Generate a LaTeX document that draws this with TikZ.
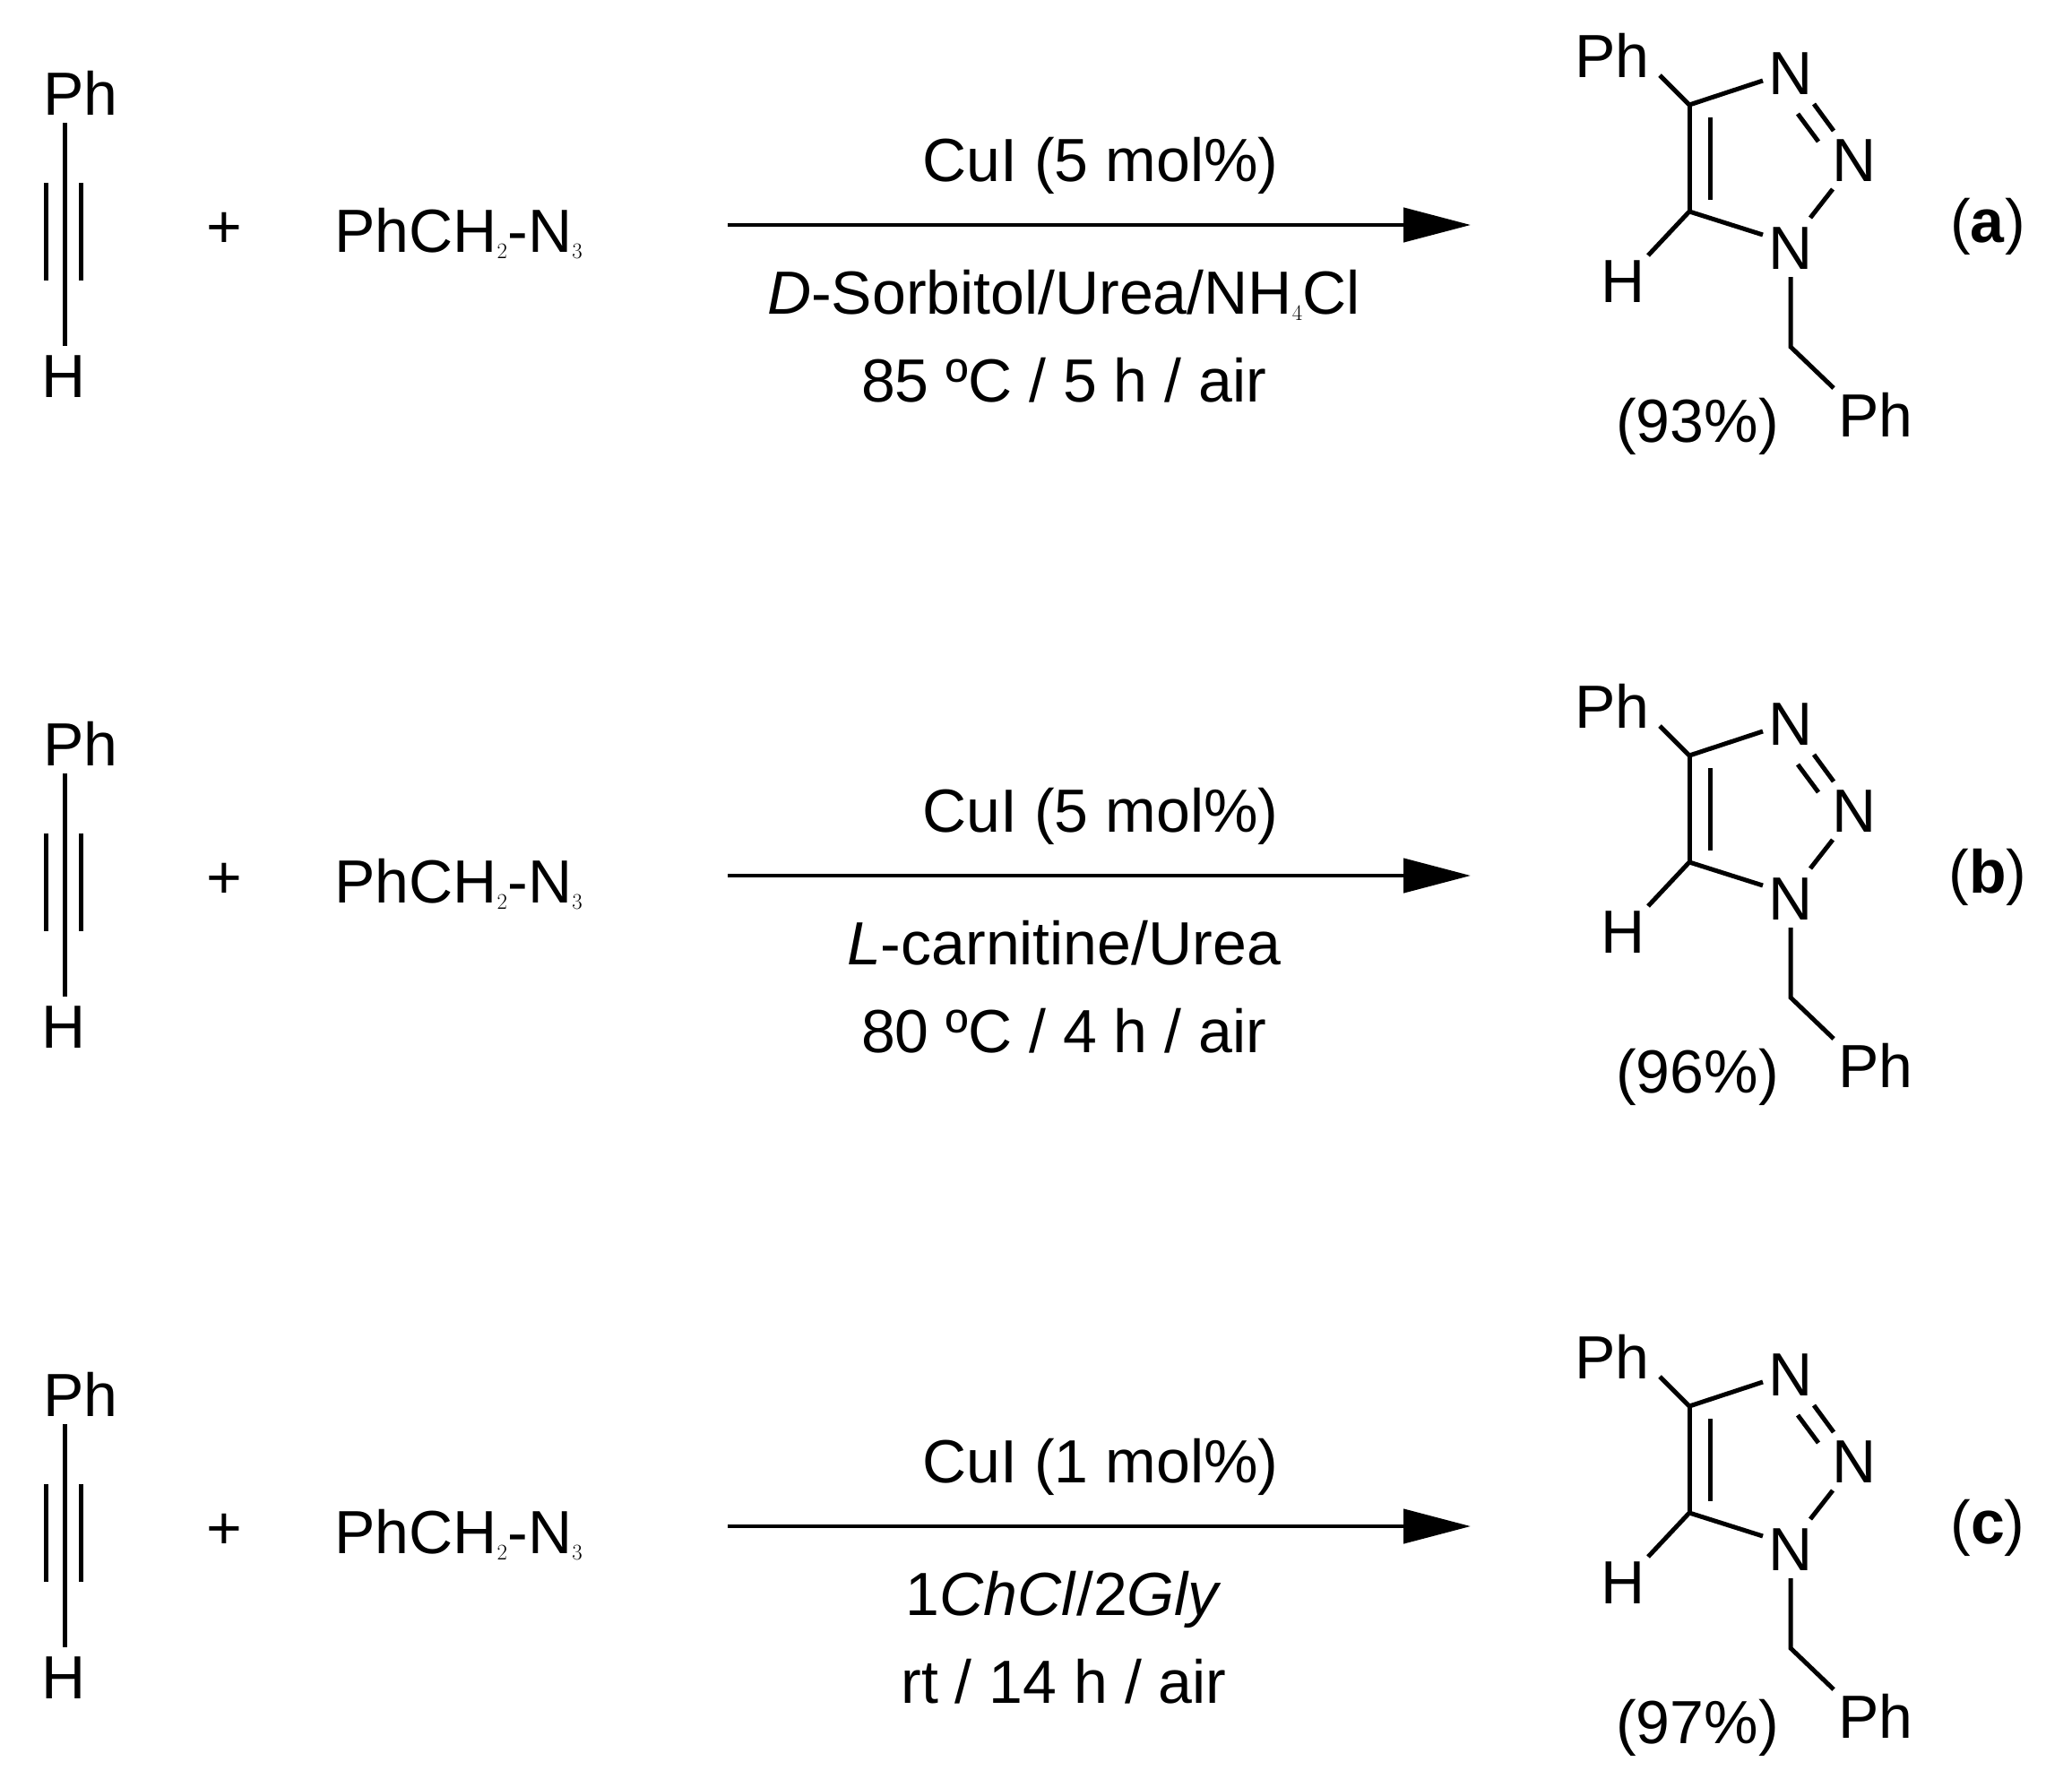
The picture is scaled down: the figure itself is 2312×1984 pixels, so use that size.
\documentclass[tikz,border=0pt]{standalone}
\usepackage{fontspec}
\setmainfont{Liberation Sans}
\usetikzlibrary{arrows.meta}
\begin{document}
\begin{tikzpicture}[x=1pt,y=-1pt,
  bond/.style={line width=5pt,line cap=butt},
  lbl/.style={inner sep=0pt,font=\fontsize{68}{80}\selectfont},
  rxn/.style={line width=4.5pt,-{Triangle[length=75pt,width=38pt]}}]
\useasboundingbox (0,0) rectangle (2312,1984);
\foreach \i/\dy/\cat/\solv/\cond/\yld/\tag in {
  a/0/{CuI (5 mol\%)}/{\textit{D}-Sorbitol/Urea/NH$_4$Cl}/{85 ºC / 5 h / air}/{(93\%)}/a,
  b/726/{CuI (5 mol\%)}/{\textit{L}-carnitine/Urea}/{80 ºC / 4 h / air}/{(96\%)}/b,
  c/1452/{CuI (1 mol\%)}/{1\textit{ChCl}/2\textit{Gly}}/{rt / 14 h / air}/{(97\%)}/c}{
\begin{scope}[yshift=-\dy pt]
  % alkyne
  \node[lbl] (aph\i) at (90,104) {Ph};
  \node[lbl] (ah\i) at (71,420) {H};
  \coordinate (t1\i) at (72,137); \coordinate (t2\i) at (72,386);
  \draw[bond] (t1\i) -- (t2\i);
  \draw[bond] (51,204) -- (51,313);
  \draw[bond] (90,204) -- (90,313);
  \node[lbl] (plus\i) at (250,257) {+};
  \node[lbl,anchor=base west] (az\i) at (373,281) {PhCH$_2$-N$_3$};
  % arrow
  \coordinate (s\i) at (812,251); \coordinate (e\i) at (1641,251);
  \draw[rxn] (s\i) -- (e\i);
  \node[lbl,anchor=base] (cat\i) at (1228,202) {\cat};
  \node[lbl,anchor=base] (sol\i) at (1187,350) {\solv};
  \node[lbl,anchor=base] (con\i) at (1187,448) {\cond};
  % triazole
  \node[lbl] (tph\i) at (1799,62) {Ph};
  \node[lbl] (n3\i) at (1998,82) {N};
  \node[lbl] (n2\i) at (2069,179) {N};
  \node[lbl] (n1\i) at (1998,277) {N};
  \node[lbl] (th\i) at (1811,314) {H};
  \node[lbl] (bph\i) at (2093,463) {Ph};
  \node[lbl] (yl\i) at (1894,476) {\yld};
  \node[lbl] (tag\i) at (2218,253) {(\textbf{\tag})};
  \coordinate (c4\i) at (1885,117); \coordinate (c5\i) at (1885,236);
  \coordinate (ch\i) at (1998,387);
  \draw[bond,line join=miter] (1852,84) -- (c4\i) -- (1967,90);
  \draw[bond] (c4\i) -- (c5\i);
  \draw[bond] (1908,131) -- (1908,223);
  \draw[bond,line join=miter] (1839,285) -- (c5\i) -- (1967,262);
  \draw[bond] (2024,116) -- (2046,146);
  \draw[bond] (2006,127) -- (2029,158);
  \draw[bond] (2045,211) -- (2020,243);
  \draw[bond,line join=miter] (1998,309) -- (ch\i) -- (2046,433);
\end{scope}}
\end{tikzpicture}
\end{document}
